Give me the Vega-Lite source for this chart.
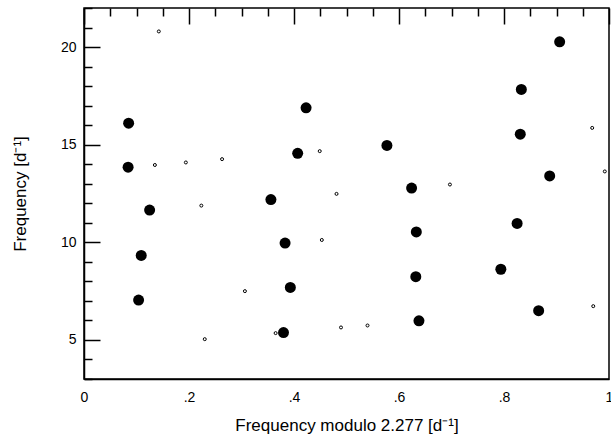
{
  "$schema": "https://vega.github.io/schema/vega-lite/v6.json",
  "width": 525,
  "height": 371,
  "autosize": "none",
  "padding": {"left": 84, "top": 8, "right": 2, "bottom": 57},
  "background": "white",
  "config": {
    "view": {"stroke": "black", "strokeWidth": 1.5},
    "font": "Liberation Sans",
    "axis": {
      "domainColor": "black",
      "domainWidth": 1.5,
      "ticks": false,
      "grid": true,
      "gridColor": "black",
      "gridOpacity": 1,
      "gridWidth": 1.5,
      "labelColor": "black",
      "labelFontSize": 14,
      "labelFont": "Liberation Sans",
      "labelOverlap": false,
      "labelFlush": false,
      "titleColor": "black",
      "titleFont": "Liberation Sans",
      "titleFontSize": 17,
      "titleFontWeight": "normal"
    }
  },
  "data": {
    "values": [
      {"x": 0.085, "y": 16.1, "type": "large"},
      {"x": 0.084, "y": 13.85, "type": "large"},
      {"x": 0.125, "y": 11.65, "type": "large"},
      {"x": 0.109, "y": 9.33, "type": "large"},
      {"x": 0.104, "y": 7.04, "type": "large"},
      {"x": 0.356, "y": 12.19, "type": "large"},
      {"x": 0.383, "y": 9.96, "type": "large"},
      {"x": 0.393, "y": 7.69, "type": "large"},
      {"x": 0.380, "y": 5.38, "type": "large"},
      {"x": 0.423, "y": 16.89, "type": "large"},
      {"x": 0.407, "y": 14.56, "type": "large"},
      {"x": 0.577, "y": 14.96, "type": "large"},
      {"x": 0.624, "y": 12.78, "type": "large"},
      {"x": 0.633, "y": 10.53, "type": "large"},
      {"x": 0.632, "y": 8.24, "type": "large"},
      {"x": 0.638, "y": 5.98, "type": "large"},
      {"x": 0.794, "y": 8.62, "type": "large"},
      {"x": 0.825, "y": 10.97, "type": "large"},
      {"x": 0.866, "y": 6.50, "type": "large"},
      {"x": 0.887, "y": 13.40, "type": "large"},
      {"x": 0.831, "y": 15.54, "type": "large"},
      {"x": 0.833, "y": 17.83, "type": "large"},
      {"x": 0.906, "y": 20.27, "type": "large"},
      {"x": 0.1425, "y": 20.80, "type": "small"},
      {"x": 0.135, "y": 13.96, "type": "small"},
      {"x": 0.194, "y": 14.09, "type": "small"},
      {"x": 0.263, "y": 14.26, "type": "small"},
      {"x": 0.2235, "y": 11.88, "type": "small"},
      {"x": 0.449, "y": 14.67, "type": "small"},
      {"x": 0.481, "y": 12.48, "type": "small"},
      {"x": 0.697, "y": 12.96, "type": "small"},
      {"x": 0.968, "y": 15.86, "type": "small"},
      {"x": 0.992, "y": 13.63, "type": "small"},
      {"x": 0.453, "y": 10.12, "type": "small"},
      {"x": 0.4895, "y": 5.64, "type": "small"},
      {"x": 0.540, "y": 5.74, "type": "small"},
      {"x": 0.970, "y": 6.73, "type": "small"},
      {"x": 0.3065, "y": 7.50, "type": "small"},
      {"x": 0.230, "y": 5.04, "type": "small"},
      {"x": 0.365, "y": 5.35, "type": "small"}
    ]
  },
  "encoding": {
    "x": {
      "field": "x",
      "type": "quantitative",
      "scale": {"domain": [0, 1], "nice": false, "zero": false},
      "axis": {
        "title": "Frequency modulo 2.277 [d⁻¹]",
        "values": [0, 0.05, 0.1, 0.15, 0.2, 0.25, 0.3, 0.35, 0.4, 0.45, 0.5, 0.55, 0.6, 0.65, 0.7, 0.75, 0.8, 0.85, 0.9, 0.95, 1],
        "gridDash": {"condition": {"test": "abs(datum.value*5 - round(datum.value*5)) < 0.001", "value": [16, 1000]}, "value": [8, 1000]},
        "labelPadding": 11,
        "labelExpr": "abs(datum.value*5 - round(datum.value*5)) < 0.001 ? (datum.value == 0 ? '0' : (datum.value == 1 ? '1' : replace(format(datum.value, '.1f'), '0.', '.'))) : ''",
        "titleBaseline": "alphabetic",
        "titleY": 51
      }
    },
    "y": {
      "field": "y",
      "type": "quantitative",
      "scale": {"domain": [3, 22], "nice": false, "zero": false},
      "axis": {
        "title": "Frequency [d⁻¹]",
        "values": [3, 4, 5, 6, 7, 8, 9, 10, 11, 12, 13, 14, 15, 16, 17, 18, 19, 20, 21, 22],
        "gridDash": {"condition": {"test": "datum.value % 5 === 0", "value": [16, 1000]}, "value": [8, 1000]},
        "labelPadding": 8,
        "labelExpr": "datum.value % 5 === 0 ? datum.label : ''",
        "titleBaseline": "alphabetic",
        "titleX": -59,
        "titleY": 185.5
      }
    }
  },
  "layer": [
    {
      "transform": [{"filter": "datum.type === 'large'"}],
      "mark": {"type": "circle", "size": 121, "color": "black", "opacity": 1}
    },
    {
      "transform": [{"filter": "datum.type === 'small'"}],
      "mark": {"type": "point", "shape": "circle", "filled": false, "size": 9, "stroke": "black", "strokeWidth": 1, "opacity": 1}
    }
  ]
}
